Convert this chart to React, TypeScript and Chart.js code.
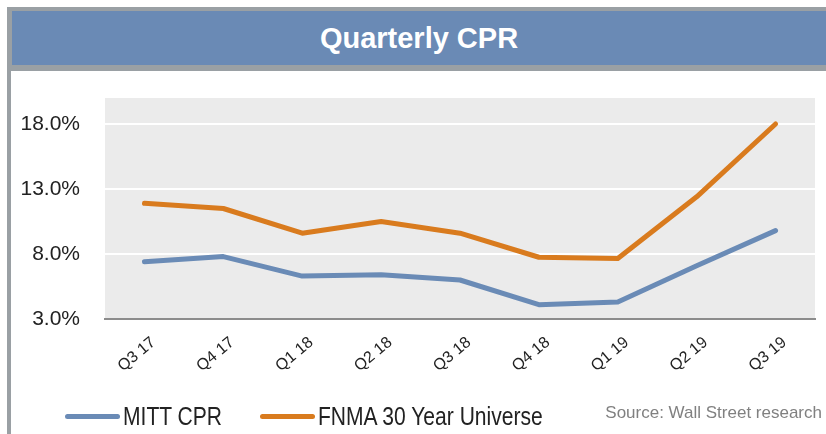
import React, { useEffect, useRef } from "react";
import { Chart, registerables } from "chart.js";

Chart.register(...registerables);

const categories = ["Q3 17", "Q4 17", "Q1 18", "Q2 18", "Q3 18", "Q4 18", "Q1 19", "Q2 19", "Q3 19"];
const mittCpr = [7.4, 7.8, 6.3, 6.4, 6.0, 4.1, 4.3, 7.1, 9.8];
const fnma30 = [11.9, 11.5, 9.6, 10.5, 9.6, 7.75, 7.65, 12.4, 18.0];
const yTickValues = [3, 8, 13, 18];
const yMin = 3;
const yMax = 20;

const BLUE = "#6a8bb6";
const ORANGE = "#d97b1e";
const SANS = '"Liberation Sans", Arial, sans-serif';

const plotBg = {
  id: "plotBg",
  beforeDraw(chart: any) {
    const { ctx, chartArea } = chart;
    ctx.save();
    ctx.fillStyle = "#ebebeb";
    ctx.fillRect(chartArea.left, chartArea.top, chartArea.right - chartArea.left, chartArea.bottom - chartArea.top);
    ctx.restore();
  },
};

export default function App() {
  const ref = useRef<HTMLCanvasElement>(null);

  useEffect(() => {
    if (!ref.current) return;
    const chart = new Chart(ref.current, {
      type: "line",
      data: {
        labels: categories,
        datasets: [
          {
            label: "MITT CPR",
            data: mittCpr,
            borderColor: BLUE,
            backgroundColor: BLUE,
            borderWidth: 5,
            pointRadius: 0,
            tension: 0,
            borderCapStyle: "round",
            borderJoinStyle: "round",
          },
          {
            label: "FNMA 30 Year Universe",
            data: fnma30,
            borderColor: ORANGE,
            backgroundColor: ORANGE,
            borderWidth: 5,
            pointRadius: 0,
            tension: 0,
            borderCapStyle: "round",
            borderJoinStyle: "round",
          },
        ],
      },
      options: {
        responsive: false,
        animation: false,
        layout: { padding: { top: 98, right: 11, left: 0, bottom: 0 } },
        plugins: {
          legend: { display: false },
          tooltip: { enabled: false },
          title: { display: false },
        },
        scales: {
          x: {
            offset: true,
            grid: { display: false, drawTicks: false },
            border: { display: true, color: "#8c8c8c", width: 2 },
            ticks: {
              minRotation: 40,
              maxRotation: 40,
              padding: 14,
              labelOffset: 9,
              color: "#222",
              font: { family: SANS, size: 16 },
            },
            afterFit(scale: any) {
              scale.height = 115;
            },
          },
          y: {
            min: yMin,
            max: yMax,
            border: { display: false },
            grid: {
              drawTicks: false,
              lineWidth: 2,
              color: (c: any) => (c.tick && c.tick.value === yMin ? "rgba(0,0,0,0)" : "#ffffff"),
            },
            ticks: {
              stepSize: 5,
              padding: 25,
              color: "#222",
              font: { family: SANS, size: 21 },
              callback: (v: any) => Number(v).toFixed(1) + "%",
            },
            afterBuildTicks(axis: any) {
              axis.ticks = yTickValues.map((v) => ({ value: v }));
            },
            afterFit(scale: any) {
              scale.width = 105;
            },
          },
        },
      },
      plugins: [plotBg],
    });
    return () => chart.destroy();
  }, []);

  const legendItem = (color: string, text: string, left: number) => (
    <div style={{ position: "absolute", left, top: 400, height: 32, display: "flex", alignItems: "center" }}>
      <div style={{ width: 55, height: 5, background: color, borderRadius: 2.5, marginRight: 3, flex: "none" }} />
      <span
        style={{
          fontFamily: SANS,
          fontSize: 26,
          color: "#222",
          lineHeight: "32px",
          whiteSpace: "nowrap",
          display: "inline-block",
          transform: "scaleX(0.81)",
          transformOrigin: "left center",
        }}
      >
        {text}
      </span>
    </div>
  );

  return (
    <div style={{ position: "absolute", left: 0, top: 0, width: 826, height: 434, background: "#fff", overflow: "hidden" }}>
      <canvas ref={ref} width={826} height={434} style={{ position: "absolute", left: 0, top: 0, width: 826, height: 434 }} />
      <div style={{ position: "absolute", left: 7, top: 7, width: 830, height: 64, background: "#9aa0a4" }} />
      <div
        style={{
          position: "absolute",
          left: 12,
          top: 11,
          width: 830,
          height: 54,
          background: "#6a8ab5",
        }}
      >
        <span
          style={{
            position: "absolute",
            left: 0,
            top: 0,
            width: 814,
            height: 54,
            lineHeight: "54px",
            textAlign: "center",
            color: "#fff",
            fontFamily: SANS,
            fontWeight: "bold",
            fontSize: 29,
          }}
        >
          Quarterly CPR
        </span>
      </div>
      <div style={{ position: "absolute", left: 7, top: 71, width: 4, height: 363, background: "#9aa0a4" }} />
      {legendItem(BLUE, "MITT CPR", 65)}
      {legendItem(ORANGE, "FNMA 30 Year Universe", 260)}
      <div
        style={{
          position: "absolute",
          right: 4,
          top: 403,
          fontFamily: SANS,
          fontSize: 17,
          color: "#808080",
          whiteSpace: "nowrap",
        }}
      >
        Source: Wall Street research
      </div>
    </div>
  );
}
